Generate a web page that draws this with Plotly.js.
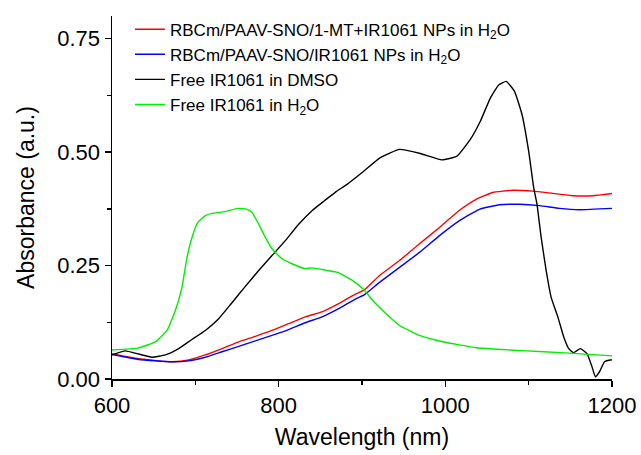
<!DOCTYPE html>
<html>
<head>
<meta charset="utf-8">
<script src="https://cdn.plot.ly/plotly-3.0.1.min.js"></script>
<style>html,body{margin:0;padding:0;background:#fff;}#chart{width:641px;height:455px;}</style>
</head>
<body>
<div id="chart"></div>
<script>
// Series names
const seriesNames = [
  "RBCm/PAAV-SNO/1-MT+IR1061 NPs in H<sub>2</sub>O",
  "RBCm/PAAV-SNO/IR1061 NPs in H<sub>2</sub>O",
  "Free IR1061 in DMSO",
  "Free IR1061 in H<sub>2</sub>O"
];

// RBCm/PAAV-SNO/1-MT+IR1061 NPs in H2O (red)
const redX = [600,615,632,655,672,692,712,732,752,772,792,812,832,852,872,891,903,921,945,969,993,1017,1037,1057,1081,1105,1129,1153,1177,1200];
const redY = [0.056,0.050,0.045,0.040,0.038,0.042,0.053,0.067,0.082,0.094,0.107,0.122,0.137,0.148,0.166,0.186,0.197,0.228,0.261,0.298,0.334,0.372,0.396,0.411,0.416,0.414,0.409,0.404,0.404,0.409];

// RBCm/PAAV-SNO/IR1061 NPs in H2O (blue)
const blueX = [600,632,672,692,712,732,752,772,792,812,832,852,872,891,903,921,945,969,993,1017,1041,1065,1089,1113,1137,1161,1200];
const blueY = [0.054,0.043,0.038,0.040,0.048,0.060,0.072,0.084,0.096,0.109,0.124,0.137,0.155,0.175,0.186,0.213,0.246,0.279,0.316,0.349,0.374,0.384,0.385,0.382,0.376,0.373,0.376];

// Free IR1061 in DMSO (black)
const blackX = [600,616,632,648,664,680,695,712,728,743,759,776,792,808,824,840,855,869,882,902,922,945,970,996,1014,1030,1042,1054,1064,1073,1083,1092,1100,1106,1110,1115,1121,1127,1135,1142,1148,1154,1162,1170,1176,1180,1185,1191,1198,1200];
const blackY = [0.053,0.062,0.055,0.048,0.053,0.067,0.086,0.107,0.133,0.166,0.202,0.239,0.272,0.305,0.341,0.371,0.393,0.413,0.429,0.458,0.488,0.506,0.497,0.483,0.491,0.528,0.568,0.619,0.648,0.656,0.634,0.583,0.502,0.422,0.385,0.312,0.239,0.180,0.137,0.093,0.067,0.058,0.067,0.056,0.027,0.005,0.016,0.038,0.042,0.042];

// Free IR1061 in H2O (green)
const greenX = [600,631,652,666,676,684,690,696,703,712,720,736,751,762,768,775,784,792,804,816,832,840,856,871,888,902,913,929,945,969,997,1037,1077,1118,1158,1200];
const greenY = [0.064,0.068,0.082,0.107,0.151,0.202,0.268,0.312,0.345,0.360,0.365,0.369,0.376,0.374,0.367,0.345,0.312,0.287,0.265,0.254,0.243,0.245,0.240,0.235,0.218,0.197,0.173,0.144,0.118,0.096,0.082,0.069,0.064,0.060,0.056,0.051];

const xTickVals = [600, 800, 1000, 1200];
const yTickVals = [0, 0.25, 0.5, 0.75];
const yTickText = ["0.00", "0.25", "0.50", "0.75"];

const FONT = "Arial, 'Liberation Sans', sans-serif";
function tr(x, y, name, color) {
  return {x: x, y: y, name: name, type: "scatter", mode: "lines",
          line: {color: color, width: 1.4, shape: "spline", smoothing: 0.4}};
}
const data = [
  tr(redX, redY, seriesNames[0], "#ff0000"),
  tr(blueX, blueY, seriesNames[1], "#0000ff"),
  tr(blackX, blackY, seriesNames[2], "#000000"),
  tr(greenX, greenY, seriesNames[3], "#00ee00")
];
const layout = {
  width: 641, height: 455,
  margin: {l: 112, r: 29, t: 13, b: 76},
  paper_bgcolor: "#fff", plot_bgcolor: "#fff",
  font: {family: FONT, color: "#000"},
  showlegend: true,
  legend: {x: 0.036, y: 1.012, xanchor: "left", yanchor: "top", bgcolor: "rgba(0,0,0,0)",
           font: {size: 17, family: FONT, color: "#000"}, tracegroupgap: 0},
  xaxis: {range: [600, 1200], tickvals: xTickVals, ticks: "outside", ticklen: 6, tickwidth: 1.5,
          tickcolor: "#000", showline: true, linecolor: "#000", linewidth: 1.5, showgrid: false,
          zeroline: false, tickfont: {size: 22, family: FONT},
          minor: {dtick: 100, tick0: 600, ticks: "outside", ticklen: 4, tickwidth: 1.5, tickcolor: "#000", showgrid: false},
          title: {text: "Wavelength (nm)", font: {size: 23, family: FONT}, standoff: 12}},
  yaxis: {range: [0, 0.8], tickvals: yTickVals, ticktext: yTickText, ticks: "outside", ticklen: 6, tickwidth: 1.5,
          tickcolor: "#000", showline: true, linecolor: "#000", linewidth: 1.5, showgrid: false,
          zeroline: false, tickfont: {size: 22, family: FONT},
          minor: {dtick: 0.125, tick0: 0, ticks: "outside", ticklen: 4, tickwidth: 1.5, tickcolor: "#000", showgrid: false},
          title: {text: "Absorbance (a.u.)", font: {size: 23, family: FONT}, standoff: 16}}
};
Plotly.newPlot("chart", data, layout, {displayModeBar: false, staticPlot: true});
</script>
</body>
</html>
